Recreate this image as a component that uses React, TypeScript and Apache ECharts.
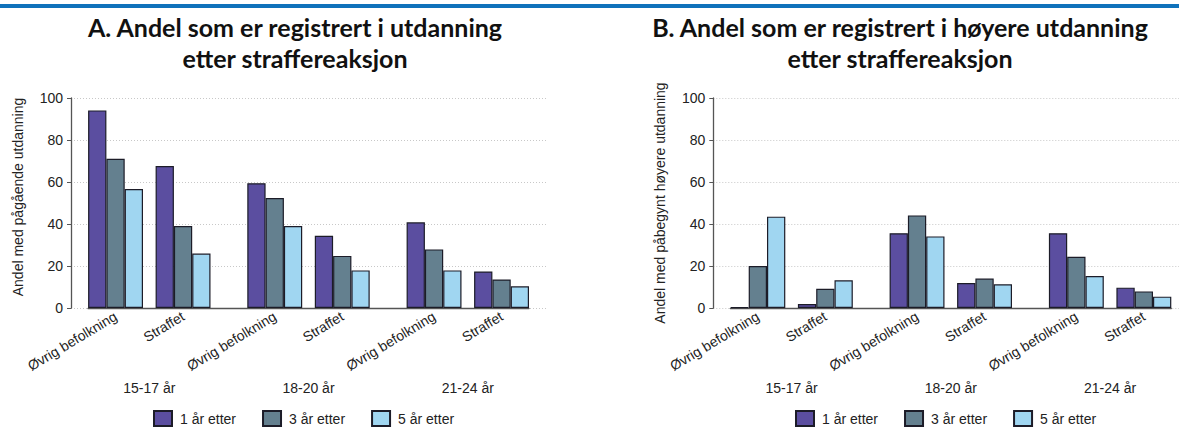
import React, { useEffect, useRef } from "react";
import * as echarts from "echarts";

const categories = ["Øvrig befolkning", "Straffet"];
const ageGroups = ["15-17 år", "18-20 år", "21-24 år"];
const seriesNames = ["1 år etter", "3 år etter", "5 år etter"];

// Values ordered: 15-17 (Øvrig, Straffet), 18-20 (Øvrig, Straffet), 21-24 (Øvrig, Straffet)
const a1 = [94.1, 67.6, 59.4, 34.4, 40.8, 17.4];
const a3 = [71.1, 39.0, 52.4, 24.8, 27.9, 13.6];
const a5 = [56.7, 25.9, 39.0, 17.9, 17.9, 10.3];

const b1 = [0.3, 1.9, 35.6, 11.9, 35.6, 9.7];
const b3 = [20.0, 9.2, 44.1, 14.0, 24.4, 7.9];
const b5 = [43.5, 13.2, 34.1, 11.3, 15.2, 5.4];

const titleA = "A. Andel som er registrert i utdanning\netter straffereaksjon";
const titleB = "B. Andel som er registrert i høyere utdanning\netter straffereaksjon";
const yNameA = "Andel med pågående utdanning";
const yNameB = "Andel med påbegynt høyere utdanning";

const colors = ["#5b4ea0", "#64808f", "#a0d6f1"];
const FONT = "'Liberation Sans', Arial, sans-serif";
const TXT = "#222";

function buildPanel(dx: number, gridBase: number, values: number[][], yName: string, namePad: number[]) {
  const top = 98;
  const height = 210;
  const grid: any[] = [];
  const xAxis: any[] = [];
  const yAxis: any[] = [];
  const series: any[] = [];

  // main grid: y axis + dotted grid lines
  grid.push({ left: 71 + dx, top, width: 476, height });
  xAxis.push({ gridIndex: gridBase, type: "value", min: 0, max: 1, show: false });
  yAxis.push({
    gridIndex: gridBase,
    type: "value",
    min: 0,
    max: 100,
    interval: 20,
    name: yName,
    nameLocation: "middle",
    nameGap: 46,
    nameTextStyle: { fontSize: 14, color: TXT, fontFamily: FONT, padding: namePad },
    axisLine: { show: true, lineStyle: { color: "#555", width: 1.3 } },
    axisTick: { show: true, length: 4, lineStyle: { color: "#555" } },
    axisLabel: { fontSize: 14, color: TXT, fontFamily: FONT, margin: 8 },
    splitLine: { show: true, lineStyle: { color: "#c8c8c8", type: [1, 2], width: 1 } },
  });

  // baseline grid
  grid.push({ left: 88 + dx, top, width: 441, height });
  xAxis.push({
    gridIndex: gridBase + 1,
    type: "value",
    min: 0,
    max: 1,
    axisLine: { show: true, lineStyle: { color: "#555", width: 1.3 } },
    axisTick: { show: false },
    axisLabel: { show: false },
    splitLine: { show: false },
  });
  yAxis.push({ gridIndex: gridBase + 1, type: "value", min: 0, max: 100, show: false });

  const offsets = [10.8, 170, 329.3];
  ageGroups.forEach((age, g) => {
    const gi = gridBase + 2 + g;
    grid.push({ left: 71 + dx + offsets[g], top, width: 135, height });
    xAxis.push({
      gridIndex: gi,
      type: "category",
      data: categories,
      name: age,
      nameLocation: "middle",
      nameGap: 73,
      nameTextStyle: { fontSize: 14, color: TXT, fontFamily: FONT },
      axisLine: { show: false },
      axisTick: { show: false },
      axisLabel: { rotate: 31, fontSize: 14, color: TXT, fontFamily: FONT, margin: 7, interval: 0 },
    });
    yAxis.push({ gridIndex: gi, type: "value", min: 0, max: 100, show: false });
    seriesNames.forEach((name, s) => {
      series.push({
        type: "bar",
        name,
        xAxisIndex: gi,
        yAxisIndex: gi,
        barWidth: 18.3,
        barGap: "0%",
        itemStyle: { color: colors[s], borderColor: "#1c1c28", borderWidth: 1.2 },
        data: [values[s][g * 2], values[s][g * 2 + 1]],
      });
    });
  });
  return { grid, xAxis, yAxis, series };
}

export default function App() {
  const ref = useRef<HTMLDivElement>(null);
  useEffect(() => {
    if (!ref.current) return;
    const chart = echarts.init(ref.current, undefined, { renderer: "svg" });
    const pA = buildPanel(0, 0, [a1, a3, a5], yNameA, [0, 0, 0, 12]);
    const pB = buildPanel(642.3, 5, [b1, b3, b5], yNameB, [0, 0, 0, 0]);
    const legendBase = {
      data: seriesNames,
      top: 410,
      orient: "horizontal",
      icon: "rect",
      itemWidth: 18,
      itemHeight: 15,
      itemGap: 26,
      padding: 0,
      selectedMode: false,
      textStyle: { fontSize: 14, color: TXT, fontFamily: FONT, padding: [0, 0, 0, 3] },
    };
    const titleStyle = {
      fontSize: 25,
      fontWeight: "bold",
      fontFamily: "Lato, 'Open Sans', sans-serif",
      fill: "#111",
      textAlign: "center",
      textVerticalAlign: "top",
      lineHeight: 31,
    };
    chart.setOption({
      animation: false,
      backgroundColor: "#ffffff",
      grid: [...pA.grid, ...pB.grid],
      xAxis: [...pA.xAxis, ...pB.xAxis],
      yAxis: [...pA.yAxis, ...pB.yAxis],
      series: [...pA.series, ...pB.series],
      legend: [
        { ...legendBase, left: 153 },
        { ...legendBase, left: 795 },
      ],
      graphic: [
        { type: "rect", shape: { x: 0, y: 4, width: 1179, height: 4 }, style: { fill: "#0f72bb" } },
        { type: "text", x: 295, y: 11, style: { ...titleStyle, text: titleA } },
        { type: "text", x: 900, y: 11, style: { ...titleStyle, text: titleB } },
      ],
    });
    return () => chart.dispose();
  }, []);
  return (
    <div
      ref={ref}
      style={{ position: "fixed", left: 0, top: 0, width: 1179, height: 428, background: "#fff" }}
    />
  );
}
